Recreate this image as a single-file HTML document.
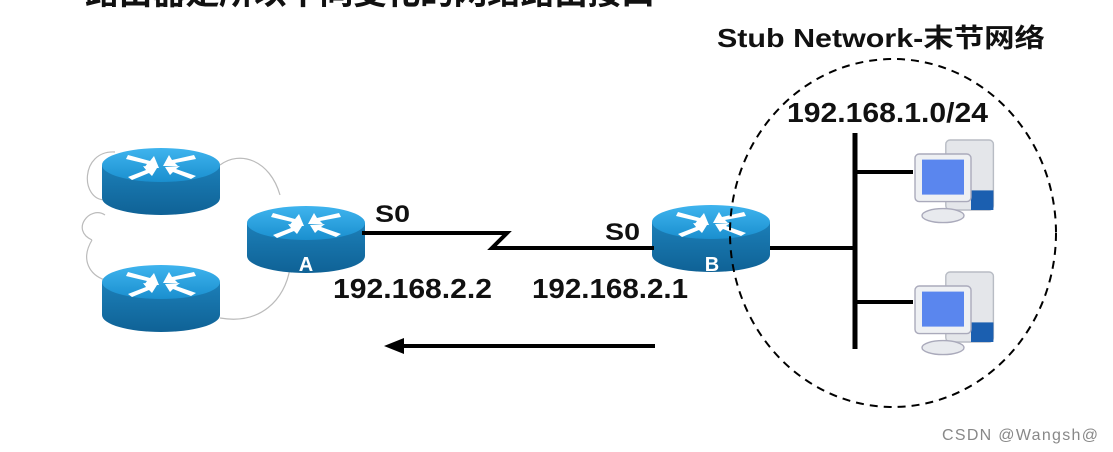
<!DOCTYPE html>
<html><head><meta charset="utf-8"><style>
html,body{margin:0;padding:0;background:#fff;}
svg{display:block;}
text{font-family:"Liberation Sans","Noto Sans CJK SC",sans-serif;font-weight:bold;}
</style></head><body>
<svg width="1113" height="452" viewBox="0 0 1113 452" xmlns="http://www.w3.org/2000/svg">
<defs>
<linearGradient id="top" x1="0" y1="0" x2="0" y2="1"><stop offset="0" stop-color="#3fb4ee"/><stop offset="1" stop-color="#1a8fcf"/></linearGradient>
<linearGradient id="side" x1="0" y1="0" x2="0" y2="1"><stop offset="0" stop-color="#1c7fb8"/><stop offset="1" stop-color="#0f6296"/></linearGradient>
<g id="r">
<path d="M0 17 L0 50 A59 17 0 0 0 118 50 L118 17 Z" fill="url(#side)"/>
<ellipse cx="59" cy="17" rx="59" ry="17" fill="url(#top)"/>
<g fill="#fff">
<path d="M26 7 L48 13 L52 8 L57 20 L42 20 L45 16 L24 11Z"/>
<path d="M92 7 L70 12 L67 7 L61 18 L76 18 L73 15 L94 11Z"/>
<path d="M26 29 L44 22 L41 18 L55 20 L50 28 L47 25 L30 32Z"/>
<path d="M94 28 L74 21 L78 18 L63 19 L68 27 L71 24 L89 31Z"/>
</g>
</g>
<g id="pc">
<rect x="22" y="0" width="34" height="50" rx="3" fill="#e4e6ea" stroke="#b8bcc4"/>
<rect x="40" y="36" width="16" height="14" fill="#1b5fb0"/>
<rect x="0" y="10" width="40" height="34" rx="3" fill="#eef0f3" stroke="#aab"/>
<rect x="5" y="14" width="30" height="25" fill="#5a86ee"/>
<ellipse cx="20" cy="54" rx="15" ry="5" fill="#e8eaee" stroke="#aab"/>
</g>
</defs>
<text x="85" y="4" font-size="34" fill="#111" textLength="570">路由器是所以不同变化的网络路由接口</text>
<path d="M105 200 C80 200 80 150 115 152 M220 165 C240 150 270 160 280 195 M92 240 C70 230 90 205 105 215 M92 240 C80 260 90 275 105 280 M220 318 C260 325 285 300 290 268" fill="none" stroke="#bbb" stroke-width="1.2"/>
<use href="#r" x="102" y="148"/>
<use href="#r" x="102" y="265"/>
<use href="#r" x="247" y="206"/>
<use href="#r" x="652" y="205"/>
<text x="306" y="271" font-size="20" fill="#fff" text-anchor="middle">A</text>
<text x="712" y="271" font-size="20" fill="#fff" text-anchor="middle">B</text>
<path d="M362 233 L507 233 L492 248 L654 248" fill="none" stroke="#000" stroke-width="4"/>
<line x1="770" y1="248" x2="855" y2="248" stroke="#000" stroke-width="4"/>
<line x1="855" y1="133" x2="855" y2="349" stroke="#000" stroke-width="5"/>
<line x1="855" y1="172" x2="913" y2="172" stroke="#000" stroke-width="4"/>
<line x1="855" y1="302" x2="913" y2="302" stroke="#000" stroke-width="4"/>
<g transform="translate(915,140) scale(1.4)"><use href="#pc"/></g>
<g transform="translate(915,272) scale(1.4)"><use href="#pc"/></g>
<ellipse cx="893" cy="233" rx="163" ry="174" fill="none" stroke="#000" stroke-width="2" stroke-dasharray="8 6"/>
<line x1="655" y1="346" x2="400" y2="346" stroke="#000" stroke-width="4"/>
<path d="M384 346 L404 338 L404 354Z" fill="#000"/>
<text x="717" y="47" font-size="26" fill="#111" textLength="328" lengthAdjust="spacingAndGlyphs">Stub Network-末节网络</text>
<text x="787" y="122" font-size="28" fill="#111" textLength="201" lengthAdjust="spacingAndGlyphs">192.168.1.0/24</text>
<text x="375" y="222" font-size="24" fill="#111" textLength="35" lengthAdjust="spacingAndGlyphs">S0</text>
<text x="605" y="240" font-size="24" fill="#111" textLength="35" lengthAdjust="spacingAndGlyphs">S0</text>
<text x="333" y="298" font-size="28" fill="#111" textLength="159" lengthAdjust="spacingAndGlyphs">192.168.2.2</text>
<text x="532" y="298" font-size="28" fill="#111" textLength="156" lengthAdjust="spacingAndGlyphs">192.168.2.1</text>
<text x="942" y="440" font-size="16" fill="#888" style="font-weight:normal" textLength="156">CSDN @Wangsh@</text>
</svg>
</body></html>
